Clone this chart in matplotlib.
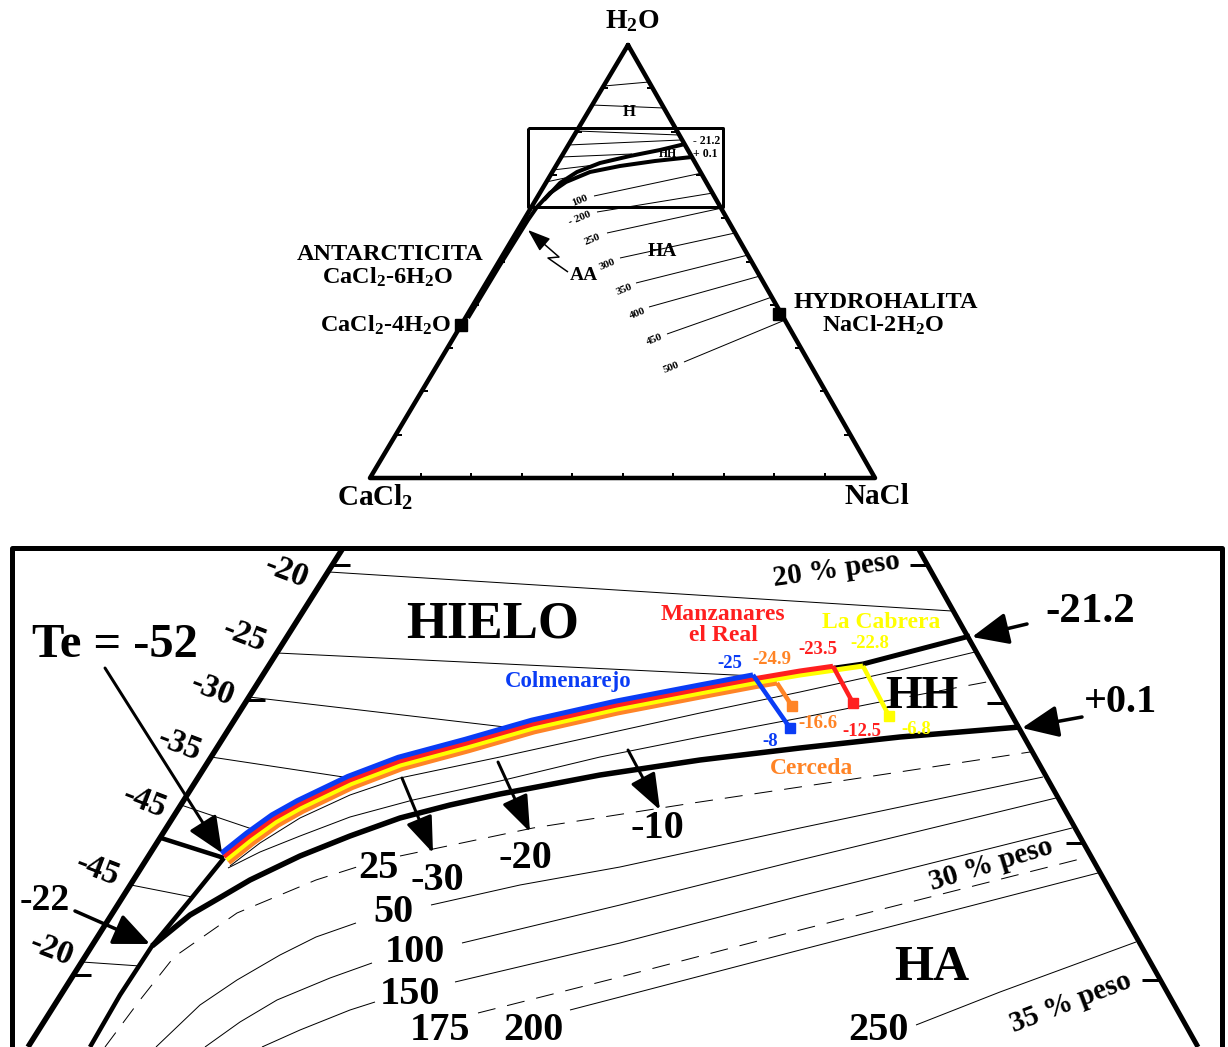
"""Diagrama ternario H2O-NaCl-CaCl2 con ampliacion de la zona del hielo/hidrohalita."""
import matplotlib
matplotlib.use("Agg")
import matplotlib.pyplot as plt
import numpy as np

plt.rcParams['font.family'] = ['Liberation Serif', 'DejaVu Serif']
plt.rcParams['font.weight'] = 'bold'
plt.rcParams['mathtext.fontset'] = 'custom'
plt.rcParams['mathtext.rm'] = 'Liberation Serif:bold'
plt.rcParams['mathtext.it'] = 'Liberation Serif:bold'
plt.rcParams['mathtext.bf'] = 'Liberation Serif:bold'

PX = 0.72  # points per pixel at 100 dpi

# ---------------- upper ternary diagram ----------------
TRI = [(628, 45), (370, 478), (875, 478)]
ZOOM_BOX = [(528, 128), (723, 207)]
TOP_ICE_LINES = [[(604, 86), (649, 82)], [(592, 105), (664, 108)], [(577, 131), (679, 135)],
                 [(568, 145), (681, 140)], [(561, 157), (632, 154)], [(553, 170), (595, 165)],
                 [(546, 182), (565, 178)]]
TOP_CURVE_ICE = [(544, 200), (560, 183), (577, 172), (600, 163), (630, 156), (660, 150), (685, 144)]
TOP_CURVE_HH = [(468, 318), (500, 265), (528, 220), (537, 207), (550, 193), (566, 182),
                (590, 172), (620, 166), (655, 161), (692, 157)]
TOP_HA_LABELS = ['100', '- 200', '250', '300', '350', '400', '450', '500']
TOP_HA_LABEL_XY = [(580, 201), (580, 218), (592, 240), (607, 265), (624, 290),
                   (638, 314), (655, 340), (671, 368)]
TOP_HA_START = [(594, 196), (597, 212), (607, 233), (620, 258), (636, 283),
                (649, 307), (667, 334), (684, 362)]
TOP_HA_END = [(702, 173), (713, 193), (722, 208), (735, 233), (748, 255),
              (760, 276), (772, 297), (785, 320)]
AA_ARROW = [(568, 272), (548, 258), (559, 257), (528, 230)]
SALT_POINTS = [(461, 325), (779, 314)]

# ---------------- lower enlarged panel ----------------
FRAME = [(12, 548), (1222, 1070)]
LEFT_SIDE = [(343, 548), (28, 1047)]
RIGHT_SIDE = [(918, 548), (1198, 1047)]
INNER_LEFT = [(224, 858), (190, 900), (152, 946), (120, 995), (90, 1047)]
TE_LINE = [(161, 838), (224, 858)]
LEFT_TICKS_Y = [565, 700, 975]
RIGHT_TICKS_Y = [565, 703, 843, 980]
SIDE_LABELS = ['-20', '-25', '-30', '-35', '-45', '-45', '-20']
SIDE_LABEL_XY = [(287, 572), (245, 636), (213, 690), (180, 745), (145, 802), (98, 870), (52, 950)]

ICE_LINES = [[(329, 572), (952, 611)], [(277, 653), (755, 676)], [(249, 697), (505, 727)],
             [(211, 757), (350, 778)], [(181, 805), (252, 829)], [(131, 885), (192, 897)],
             [(82, 962), (140, 966)]]

BAND_X = [225, 250, 275, 300, 350, 400, 467, 533, 617, 700, 753, 800, 863]
BAND_Y = [858, 838, 820, 806, 782, 763, 745, 726, 707, 691, 681, 673, 664]
ICE_HH_END = [(863, 664), (970, 636)]
COTECTIC = [(152, 946), (190, 915), (221, 897), (250, 880), (300, 856), (350, 836), (400, 818),
            (450, 805), (500, 794), (600, 775), (700, 760), (800, 748), (900, 737), (1020, 727)]

HH_LINE_1 = [(230, 866), (260, 843), (300, 818), (350, 795), (400, 778), (500, 757), (600, 735),
             (700, 713), (800, 692), (900, 670), (975, 652)]
HH_LINE_2 = [(228, 868), (260, 852), (300, 836), (350, 817), (413, 800), (500, 781), (600, 757),
             (700, 737), (800, 718), (880, 702)]
HH_LINE_2_DASH = [(880, 702), (992, 681)]

HA_DASHED = [[(105, 1047), (140, 1000), (174, 957), (237, 913), (316, 880), (360, 866)],
             [(400, 856), (533, 828), (693, 803), (860, 778), (1030, 752)],
             [(478, 1013), (620, 977), (800, 930), (1088, 857)]]
HA_SOLID = [[(156, 1047), (200, 1005), (237, 980), (280, 955), (316, 937), (356, 923)],
            [(431, 905), (520, 885), (620, 867), (800, 828), (1043, 777)],
            [(205, 1047), (240, 1022), (277, 1000), (330, 978), (372, 963)],
            [(462, 943), (620, 905), (800, 860), (1056, 798)],
            [(262, 1047), (300, 1030), (350, 1010), (375, 1002)],
            [(455, 982), (620, 943), (800, 896), (1072, 828)],
            [(570, 1010), (620, 997), (800, 950), (1098, 873)],
            [(916, 1025), (1000, 992), (1136, 942)]]
HA_LABELS = ['25', '50', '100', '150', '175', '200', '250']
HA_LABEL_XY = [(378, 868), (393, 913), (415, 953), (410, 995), (440, 1030), (533, 1030), (878, 1030)]

COOLING_LABELS = ['-30', '-20', '-10']
COOLING_START = [(402, 778), (498, 762), (628, 750)]
COOLING_TIP = [(433, 853), (530, 832), (660, 810)]
COOLING_LABEL_XY = [(437, 880), (525, 858), (657, 828)]

# fluid inclusion paths per locality
SITES = ['Colmenarejo', 'Manzanares\nel Real', 'La Cabrera', 'Cerceda']
SITE_COLORS = ['#0a3cf5', '#ff1f1f', '#ffff00', '#ff8426']
SITE_OFFSET = [6, 2, -2, -6]
SITE_END_X = [753, 833, 863, 777]
SITE_DROP = [(790, 728), (853, 703), (889, 716), (792, 706)]
SITE_T_FIRST = ['-25', '-23.5', '-22.8', '-24.9']
SITE_T_FIRST_XY = [(730, 664), (818, 649), (870, 643), (772, 660)]
SITE_T_LAST = ['-8', '-12.5', '-6.8', '-16.6']
SITE_T_LAST_XY = [(770, 741), (862, 731), (916, 729), (818, 724)]
SITE_NAME_XY = [(568, 682), (723, 625), (881, 622), (812, 768)]

fig = plt.figure(figsize=(12.28, 10.47), dpi=100)
ax = fig.add_axes([0, 0, 1, 1])
ax.set_xlim(0, 1228)
ax.set_ylim(1047, 0)
ax.axis('off')


def line(pts, w=1.0, color='k', ls='-', z=2, cap='butt'):
    pts = np.asarray(pts, float)
    ax.plot(pts[:, 0], pts[:, 1], color=color, lw=w * PX, ls=ls,
            solid_capstyle=cap, dash_capstyle='butt', solid_joinstyle='round', zorder=z)


def label(x, y, s, size, rot=0, color='k', ha='center', va='center', z=6):
    ax.text(x, y, s, fontsize=size, rotation=rot, color=color, ha=ha, va=va,
            fontweight='bold', rotation_mode='anchor', zorder=z, linespacing=1.0)


def arrow(start, tip, w=3.0, hl=1.6, hw=0.7, ms=14):
    ax.annotate('', xy=tip, xytext=start,
                arrowprops=dict(arrowstyle=f'-|>,head_length={hl},head_width={hw}',
                                lw=w * PX, color='k', shrinkA=0, shrinkB=0,
                                mutation_scale=ms), zorder=7)


DASH = (0, (18, 12))

# ---- upper triangle ----
tri = np.array(TRI + [TRI[0]], float)
line(tri, 4.5, cap='round')
apex, bl, br = [np.array(p, float) for p in TRI]
for k in range(1, 10):
    f = k / 10
    pl = apex + f * (bl - apex)
    pr = apex + f * (br - apex)
    line([pl, pl + (6, 0)], 2)
    line([pr, pr - (6, 0)], 2)
    pb = bl + f * (br - bl)
    line([pb, pb - (0, 5)], 2)

(x0, y0), (x1, y1) = ZOOM_BOX
line([(x0, y0), (x1, y0), (x1, y1), (x0, y1), (x0, y0)], 3)
for seg in TOP_ICE_LINES:
    line(seg, 1)
line(TOP_CURVE_HH, 4)
line(TOP_CURVE_ICE, 4)
for s, xy, a, b in zip(TOP_HA_LABELS, TOP_HA_LABEL_XY, TOP_HA_START, TOP_HA_END):
    label(xy[0], xy[1], s, 8, rot=22)
    line([a, b], 1)
line(AA_ARROW[:-1], 1.5)
arrow(AA_ARROW[-2], AA_ARROW[-1], w=1.5, hl=1.4, hw=0.5, ms=10)
for p in SALT_POINTS:
    ax.plot(*p, marker='s', ms=9, color='k', zorder=5)

label(632, 21, r'H$_\mathrm{2}$O', 20)
label(629, 112, 'H', 12)
label(668, 154, 'HH', 8.5)
label(693, 141, '- 21.2', 8.5, ha='left')
label(693, 154, '+ 0.1', 8.5, ha='left')
label(662, 252, 'HA', 14)
label(584, 275, 'AA', 14)
label(390, 254, 'ANTARCTICITA', 17.5)
label(388, 277, r'CaCl$_\mathrm{2}$-6H$_\mathrm{2}$O', 17.5)
label(386, 325, r'CaCl$_\mathrm{2}$-4H$_\mathrm{2}$O', 17.5)
label(886, 302, 'HYDROHALITA', 17.5)
label(883, 325, r'NaCl-2H$_\mathrm{2}$O', 17.5)
label(375, 497, r'CaCl$_\mathrm{2}$', 21)
label(877, 497, 'NaCl', 21)

# ---- lower panel ----
(fx0, fy0), (fx1, fy1) = FRAME
line([(fx0, fy1), (fx0, fy0), (fx1, fy0), (fx1, fy1)], 5)
line(LEFT_SIDE, 5.5)
line(RIGHT_SIDE, 5)
line(INNER_LEFT, 4.5)
line(TE_LINE, 4.5)

ls_ = np.array(LEFT_SIDE, float)
rs_ = np.array(RIGHT_SIDE, float)
for y in LEFT_TICKS_Y:
    x = np.interp(y, ls_[:, 1], ls_[:, 0])
    line([(x, y), (x + 18, y)], 3)
for y in RIGHT_TICKS_Y:
    x = np.interp(y, rs_[:, 1], rs_[:, 0])
    line([(x - 18, y), (x, y)], 3)
for s, xy in zip(SIDE_LABELS, SIDE_LABEL_XY):
    label(xy[0], xy[1], s, 24, rot=-21)
label(45, 900, '-22', 27)

for seg in ICE_LINES:
    line(seg, 1)
for seg in HA_DASHED:
    line(seg, 1, ls=DASH)
for seg in HA_SOLID:
    line(seg, 1)
line(HH_LINE_1, 1)
line(HH_LINE_2, 1)
line(HH_LINE_2_DASH, 1, ls=DASH)

bx = np.array(BAND_X, float)
by = np.array(BAND_Y, float)
line(np.column_stack([bx[-3:], by[-3:]]), 5)
line(ICE_HH_END, 5)
line(COTECTIC, 5.5)

# offset copies of the freezing path, one per locality
pts = np.column_stack([bx, by])
tan = np.gradient(pts, axis=0)
tan /= np.linalg.norm(tan, axis=1)[:, None]
nrm = np.column_stack([tan[:, 1], -tan[:, 0]])
for order in [3, 2, 1, 0]:
    col, off, xe, drop = SITE_COLORS[order], SITE_OFFSET[order], SITE_END_X[order], SITE_DROP[order]
    path = pts + off * nrm
    keep = path[:, 0] < xe
    ye = np.interp(xe, path[:, 0], path[:, 1])
    path = np.vstack([path[keep], [xe, ye]])
    line(path, 5, color=col, z=4)
    line([(xe, ye), drop], 4.5, color=col, z=4)
    ax.plot(*drop, marker='s', ms=7.5, color=col, zorder=5)

for i in range(4):
    label(*SITE_T_FIRST_XY[i], SITE_T_FIRST[i], 13.5, color=SITE_COLORS[i])
    label(*SITE_T_LAST_XY[i], SITE_T_LAST[i], 13.5, color=SITE_COLORS[i])
label(*SITE_NAME_XY[0], SITES[0], 16.5, color=SITE_COLORS[0])
label(*SITE_NAME_XY[1], SITES[1], 17, color=SITE_COLORS[1])
label(*SITE_NAME_XY[2], SITES[2], 17, color=SITE_COLORS[2])
label(*SITE_NAME_XY[3], SITES[3], 17, color=SITE_COLORS[3])

for s, a, b, xy in zip(COOLING_LABELS, COOLING_START, COOLING_TIP, COOLING_LABEL_XY):
    arrow(a, b, w=3, hl=1.6, hw=0.6, ms=14)
    label(xy[0], xy[1], s, 29)
for s, xy in zip(HA_LABELS, HA_LABEL_XY):
    label(xy[0], xy[1], s, 29)

label(493, 625, 'HIELO', 38)
label(922, 697, 'HH', 34)
label(932, 968, 'HA', 36)
label(115, 645, 'Te = -52', 35)
label(1090, 612, '-21.2', 31)
label(1120, 703, '+0.1', 29)
label(836, 570, '20 % peso', 21, rot=8)
label(991, 864, '30 % peso', 21, rot=17)
label(1071, 1003, '35 % peso', 21, rot=21)

arrow((105, 668), (222, 853), w=3, ms=14)
arrow((75, 911), (150, 944), w=3.5, ms=14)
arrow((1027, 624), (972, 637), w=3.5, ms=14)
arrow((1082, 717), (1022, 728), w=3.5, ms=14)

fig.savefig('out.png', dpi=100, facecolor='white')
